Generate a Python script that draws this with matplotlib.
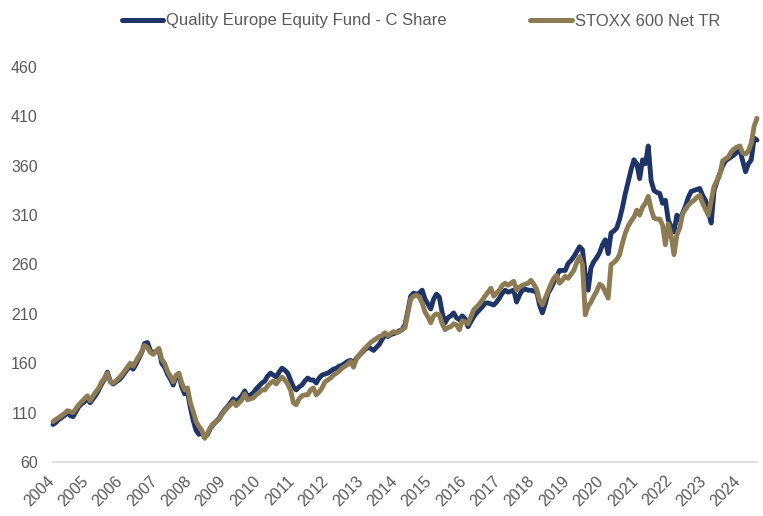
import numpy as np
import matplotlib
matplotlib.use("Agg")
import matplotlib.pyplot as plt
import matplotlib.transforms as mtransforms

# monthly values (starts autumn 2004)
fund = [98, 100, 103, 105, 107, 110, 107, 106, 111, 116, 119, 121, 124, 120, 124, 128, 133, 139, 144, 151,
        142, 139, 141, 143, 146, 150, 154, 157, 154, 159, 165, 171, 180, 181, 173, 170, 172, 174, 160, 156,
        149, 144, 138, 146, 148, 136, 129, 131, 115, 102, 92, 88, 90, 85, 88, 94, 98, 101, 104, 109,
        113, 116, 120, 124, 121, 124, 127, 132, 126, 128, 130, 134, 137, 140, 142, 147, 150, 148, 146, 151,
        155, 153, 150, 143, 136, 133, 136, 138, 142, 145, 143, 143, 140, 145, 148, 149, 150, 152, 154, 155,
        157, 158, 160, 162, 163, 160, 165, 168, 171, 174, 176, 175, 173, 176, 179, 184, 189, 187, 189, 190,
        191, 193, 194, 199, 213, 228, 231, 230, 231, 234, 225, 220, 215, 225, 230, 227, 211, 201, 206, 208,
        211, 206, 204, 208, 205, 197, 202, 207, 211, 214, 217, 221, 221, 220, 219, 222, 226, 231, 234, 232,
        233, 234, 222, 229, 234, 235, 234, 234, 233, 233, 219, 211, 220, 231, 236, 242, 248, 254, 254, 254,
        261, 264, 268, 273, 278, 275, 250, 234, 257, 263, 267, 272, 280, 285, 271, 292, 294, 297, 306, 318,
        332, 344, 356, 366, 362, 347, 366, 362, 380, 345, 335, 333, 332, 322, 325, 305, 298, 293, 310, 305,
        312, 319, 328, 334, 335, 336, 337, 330, 325, 313, 302, 335, 344, 352, 360, 365, 367, 369, 371, 374,
        376, 365, 354, 362, 366, 388, 386]

stoxx = [101, 103, 105, 107, 109, 112, 111, 110, 114, 118, 121, 124, 127, 122, 127, 131, 135, 141, 145, 150,
         141, 140, 142, 145, 148, 152, 156, 160, 157, 162, 167, 172, 178, 176, 171, 169, 172, 175, 164, 160,
         152, 147, 141, 148, 150, 140, 133, 135, 120, 111, 101, 96, 92, 84, 89, 95, 99, 101, 103, 108,
         112, 115, 118, 121, 117, 120, 123, 129, 123, 124, 125, 128, 130, 133, 133, 137, 140, 142, 139, 143,
         146, 143, 139, 133, 120, 118, 124, 127, 128, 128, 133, 135, 128, 131, 135, 141, 143, 145, 148, 150,
         152, 155, 157, 159, 162, 156, 164, 168, 172, 175, 178, 181, 183, 185, 187, 188, 191, 188, 190, 192,
         191, 192, 194, 196, 211, 225, 228, 229, 227, 221, 212, 207, 201, 208, 210, 209, 200, 194, 196, 197,
         200, 199, 194, 203, 202, 200, 207, 214, 217, 220, 224, 228, 232, 236, 228, 231, 234, 239, 241, 239,
         241, 243, 234, 237, 239, 240, 241, 244, 240, 235, 224, 219, 226, 233, 240, 246, 249, 241, 244, 248,
         246, 250, 254, 262, 268, 260, 209, 218, 222, 228, 233, 240, 238, 232, 226, 260, 262, 265, 270, 282,
         292, 299, 304, 308, 315, 310, 318, 322, 329, 316, 307, 306, 306, 300, 280, 301, 289, 270, 290, 297,
         311, 316, 320, 323, 325, 328, 330, 322, 316, 310, 325, 339, 345, 351, 365, 367, 369, 374, 377, 379,
         380, 373, 372, 375, 383, 400, 408]

years = [str(y) for y in range(2004, 2025)]
yticks = [60, 110, 160, 210, 260, 310, 360, 410, 460]

navy = "#1f3467"
gold = "#8c7b53"
grey = "#595959"

plt.rcParams["font.family"] = ["Liberation Sans", "DejaVu Sans"]

fig = plt.figure(figsize=(7.63, 5.16), dpi=100)
ax = fig.add_axes([53 / 763, 1 - 462 / 516, 704 / 763, 395 / 516])

x = np.arange(len(fund))
ax.plot(x, fund, color=navy, lw=3.5, label="Quality Europe Equity Fund - C Share",
        solid_capstyle="round", clip_on=False)
ax.plot(x, stoxx, color=gold, lw=3.5, label="STOXX 600 Net TR",
        solid_capstyle="round", clip_on=False)

ax.set_xlim(0, len(fund) - 1)
ax.set_ylim(60, 460)
ax.set_yticks(yticks)
ax.set_xticks(np.arange(0, 12 * len(years), 12))
ax.set_xticklabels(years, rotation=45, ha="right", va="top")
ax.tick_params(axis="both", length=0, labelsize=11.5, labelcolor=grey)
ax.tick_params(axis="y", pad=11)
ax.tick_params(axis="x", pad=8)

# nudge year labels a little to the right, like the original
shift = mtransforms.ScaledTranslation(4 / 100, 0, fig.dpi_scale_trans)
for lbl in ax.get_xticklabels():
    lbl.set_transform(lbl.get_transform() + shift)

for s in ["top", "right", "left"]:
    ax.spines[s].set_visible(False)
ax.spines["bottom"].set_color("#d9d9d9")
ax.spines["bottom"].set_linewidth(1.2)

leg = fig.legend(loc="center", bbox_to_anchor=(421 / 763, 1 - 21 / 516), ncol=2,
                 frameon=False, fontsize=12, handlelength=2.5, handletextpad=0.18,
                 columnspacing=5.0)
for t in leg.get_texts():
    t.set_color(grey)
for h in leg.get_lines():
    h.set_linewidth(3.6)
    h.set_solid_capstyle("round")

fig.savefig("out.png", dpi=100)
